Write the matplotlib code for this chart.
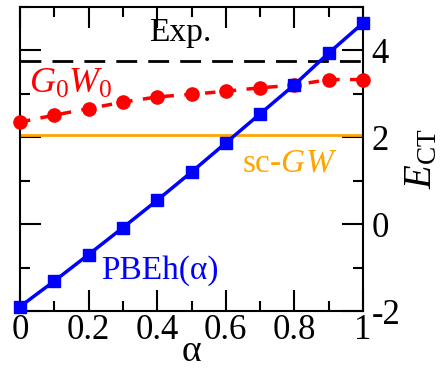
import matplotlib
matplotlib.use("Agg")
import matplotlib.pyplot as plt
from matplotlib.ticker import MultipleLocator

plt.rcParams['font.family'] = ['Liberation Serif', 'DejaVu Serif']
plt.rcParams['mathtext.fontset'] = 'custom'
plt.rcParams['mathtext.rm'] = 'Liberation Serif'
plt.rcParams['mathtext.it'] = 'Liberation Serif:italic'

alpha = [0.0, 0.1, 0.2, 0.3, 0.4, 0.5, 0.6, 0.7, 0.8, 0.9, 1.0]
pbeh = [-1.90, -1.31, -0.70, -0.08, 0.55, 1.20, 1.87, 2.54, 3.21, 3.94, 4.63]
g0w0 = [2.35, 2.51, 2.66, 2.81, 2.93, 2.99, 3.06, 3.14, 3.20, 3.33, 3.33]
exp_val = 3.75
scgw_val = 2.05
xticks = [0, 0.2, 0.4, 0.6, 0.8, 1]
xticklabels = ['0', '0.2', '0.4', '0.6', '0.8', '1']
yticks = [-2, 0, 2, 4]
yticklabels = ['-2', '0', '2', '4']

fig = plt.figure(figsize=(4.41, 3.72), dpi=100)
ax = fig.add_axes([20/441, 1 - 311/372, (363-20)/441, (311-7)/372])

ax.axhline(exp_val, color='black', lw=2, dashes=(7.5, 4))
ax.axhline(scgw_val, color='#ffa500', lw=2)
ax.plot(alpha, g0w0, color='red', lw=2.5, dashes=(3, 3), marker='o', ms=9.5, zorder=3, clip_on=False)
ax.plot(alpha, pbeh, color='blue', lw=2.5, marker='s', ms=8.5, zorder=4, clip_on=False)

ax.set_xlim(0, 1)
ax.set_ylim(-2, 5)
ax.set_xticks(xticks)
ax.set_xticklabels(xticklabels)
ax.set_yticks(yticks)
ax.set_yticklabels(yticklabels)
ax.xaxis.set_minor_locator(MultipleLocator(0.1))
ax.yaxis.set_minor_locator(MultipleLocator(1))
ax.tick_params(which='both', direction='in', top=True, right=True, left=True,
               labelleft=False, labelright=True, width=1.5, labelsize=25)
ax.tick_params(axis='x', pad=2)
ax.tick_params(axis='y', pad=6)
ax.tick_params(which='major', length=15)
ax.tick_params(which='minor', length=7)
for s in ax.spines.values():
    s.set_linewidth(1.5)

ax.set_xlabel('α', fontsize=27, labelpad=-9)
ax.yaxis.set_label_position('right')
ax.set_ylabel(r'$E_{\mathrm{CT}}$', fontsize=28, rotation=90, labelpad=2)

ax.text(0.466, 4.41, 'Exp.', fontsize=24, ha='center', va='center', color='black')
ax.text(0.149, 3.03, r'$G_0W_0$', fontsize=26, ha='center', va='baseline', color='red')
ax.text(0.787, 1.40, r'sc-$GW$', fontsize=24, ha='center', va='center', color='#ffa500')
ax.text(0.408, -1.08, 'PBEh(α)', fontsize=24, ha='center', va='center', color='blue')

fig.savefig('out.png', dpi=100)
